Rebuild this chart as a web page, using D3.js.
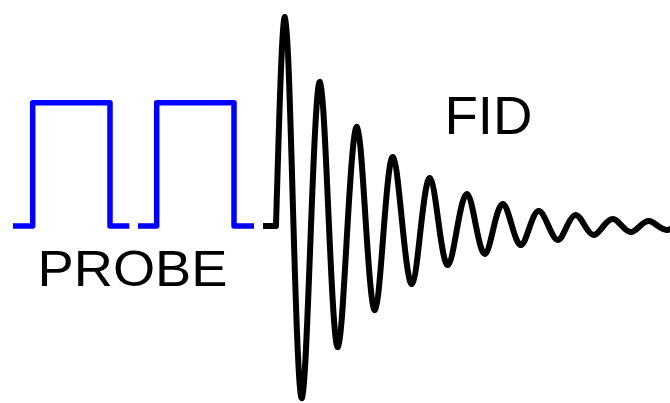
<!DOCTYPE html>
<html>
<head>
<meta charset="utf-8">
<script src="https://cdn.jsdelivr.net/npm/d3@7"></script>
<style>
  html, body { margin: 0; padding: 0; background: #fff; }
  svg { display: block; }
</style>
</head>
<body>
<svg id="chart" width="670" height="403"></svg>
<script>
// ---- data (time in arbitrary units along x, signal value above baseline) ----
const pulseStart = [13, 138];      // baseline lead-in of each probe pulse
const pulseOn    = [32.7, 156.7];  // rising edge
const pulseOff   = [110, 234];     // falling edge
const pulseEnd   = [129.3, 254];   // baseline lead-out
const pulseLevel = 123.3;          // probe pulse height

const fidLeadT = [263, 276];       // flat lead before FID
const fidT = [276, 285, 293.5, 302, 311, 320, 329, 338, 347.5, 357, 366, 375, 384, 393,
              402.5, 412, 421, 430, 439, 448, 457.5, 467, 476, 485, 494, 503, 512, 521,
              530, 539, 548.5, 558, 567, 576, 585, 594, 603.5, 613, 622, 631, 640, 649,
              658, 667, 672];
const fidV = [0, 209, 0, -172, 0, 144, 0, -121, 0, 99, 0, -84, 0, 69,
              0, -58, 0, 48, 0, -39, 0, 32, 0, -28, 0, 22, 0, -19,
              0, 15, 0, -14, 0, 11, 0, -9, 0, 7, 0, -6, 0, 5,
              0, -4, -2];

const labels = [
  { text: "PROBE", t: 37.5, v: -60, size: 50, len: 190 },
  { text: "FID",   t: 444.5, v: 92, size: 54, len: 88 }
];

// ---- scales ----
const W = 670, H = 403;
const x = d3.scaleLinear().domain([0, 670]).range([0, W]);
const y = d3.scaleLinear().domain([-177, 226]).range([H, 0]);

const svg = d3.select("#chart");

// probe pulses
const stepLine = d3.line().x(d => x(d[0])).y(d => y(d[1])).curve(d3.curveLinear);
pulseStart.forEach((s, i) => {
  const pts = [[s, 0], [pulseOn[i], 0], [pulseOn[i], pulseLevel],
               [pulseOff[i], pulseLevel], [pulseOff[i], 0], [pulseEnd[i], 0]];
  svg.append("path")
    .attr("d", stepLine(pts))
    .attr("fill", "none")
    .attr("stroke", "#0000ff")
    .attr("stroke-width", 5.5)
    .attr("stroke-linejoin", "round")
    .attr("stroke-linecap", "butt");
});

// FID lead
svg.append("path")
  .attr("d", stepLine(fidLeadT.map(t => [t, 0])))
  .attr("fill", "none")
  .attr("stroke", "#000")
  .attr("stroke-width", 6)
  .attr("stroke-linecap", "butt");

// FID
const fidLine = d3.line().x((d, i) => x(fidT[i])).y(d => y(d)).curve(d3.curveNatural);
svg.append("path")
  .attr("d", fidLine(fidV))
  .attr("fill", "none")
  .attr("stroke", "#000")
  .attr("stroke-width", 6)
  .attr("stroke-linejoin", "round")
  .attr("stroke-linecap", "round");

// labels
svg.selectAll("text.lbl").data(labels).enter().append("text")
  .attr("class", "lbl")
  .attr("x", d => x(d.t))
  .attr("y", d => y(d.v))
  .attr("font-family", "Liberation Sans, Arial, Helvetica, sans-serif")
  .attr("font-size", d => d.size)
  .attr("textLength", d => d.len)
  .attr("lengthAdjust", "spacingAndGlyphs")
  .attr("fill", "#000")
  .text(d => d.text);
</script>
</body>
</html>
